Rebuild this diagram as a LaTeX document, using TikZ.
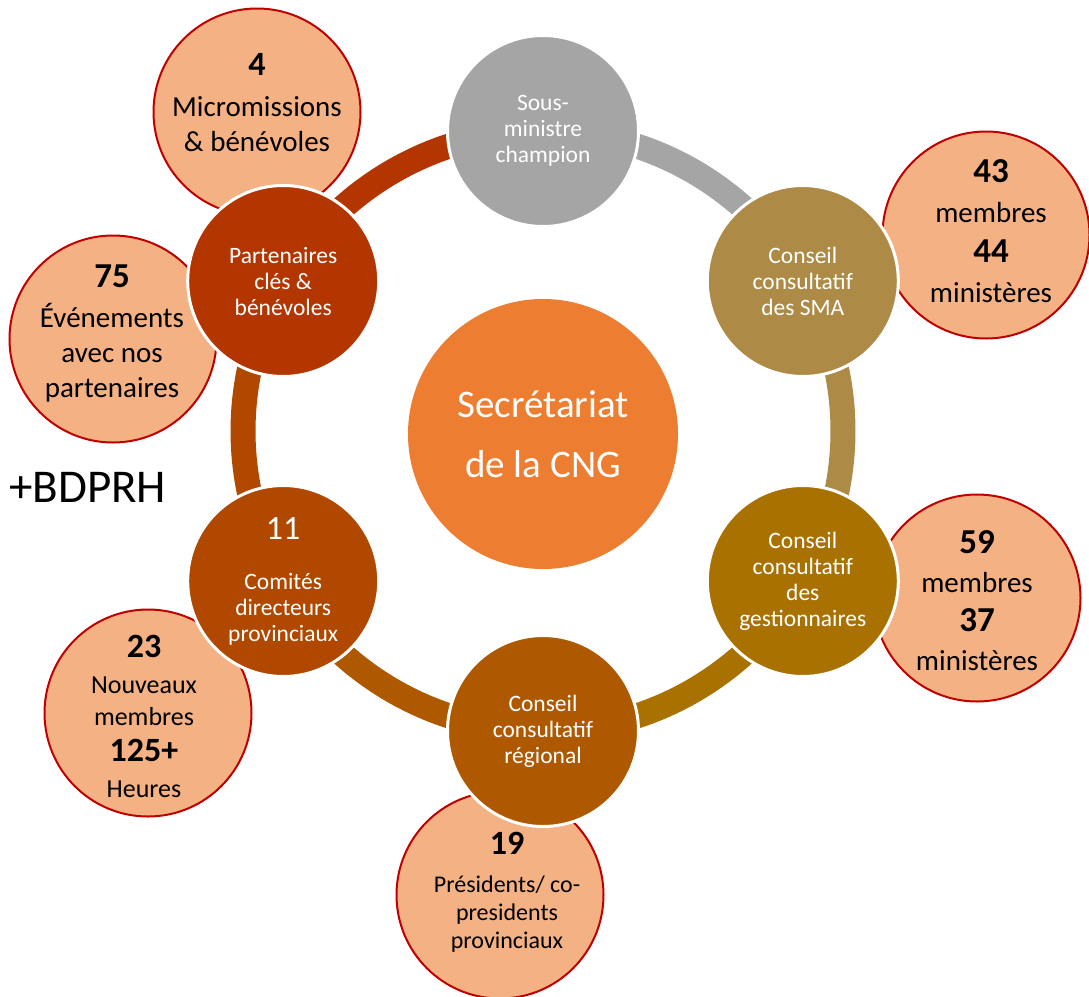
\documentclass[tikz,border=0pt]{standalone}
\usepackage{fontspec}
\setmainfont{Carlito}
\definecolor{cgray}{HTML}{A5A5A5}
\definecolor{csma}{HTML}{AD8B46}
\definecolor{cgest}{HTML}{A97100}
\definecolor{creg}{HTML}{AE5900}
\definecolor{ccom}{HTML}{B04800}
\definecolor{cpart}{HTML}{B33600}
\definecolor{ccenter}{HTML}{ED7D31}
\definecolor{satfill}{HTML}{F4B183}
\definecolor{satred}{HTML}{C00000}
\begin{document}
\begin{tikzpicture}[x=1pt,y=-1pt,
  ringnode/.style={circle, draw=white, line width=3pt, minimum size=191pt, inner sep=0pt,
    text=white, align=center, font=\fontsize{23.5}{26}\selectfont},
  sat/.style={circle, draw=satred, line width=2pt, fill=satfill, minimum size=207pt, inner sep=0pt},
  sattext/.style={align=center, inner sep=0pt, text=black},
  link/.style={line width=25pt}]
\useasboundingbox (0,0) rectangle (1089,996);

% satellites
\node[sat] (s1) at (257,112) {};
\node[sat] (s2) at (113,339) {};
\node[sat] (s3) at (986,235) {};
\node[sat] (s4) at (977,598) {};
\node[sat] (s5) at (148,713) {};
\node[sat] (s6) at (500,895) {};

\node[sattext, font=\fontsize{29}{35}\selectfont] (t1) at (257,103)
  {{\fontsize{34}{35}\selectfont\bfseries 4}\\[6pt]Micromissions\\\& bénévoles};
\node[sattext, font=\fontsize{29}{35}\selectfont] (t2) at (112,333)
  {{\fontsize{35}{35}\selectfont\bfseries 75}\\[5pt]Événements\\avec nos\\partenaires};
\node[sattext, font=\fontsize{29}{40}\selectfont] (t3) at (991,231)
  {{\fontsize{35}{40}\selectfont\bfseries 43}\\membres\\{\fontsize{35}{40}\selectfont\bfseries 44}\\ministères};
\node[sattext, font=\fontsize{29}{39}\selectfont] (t4) at (977,601)
  {{\fontsize{35}{39}\selectfont\bfseries 59}\\membres\\{\fontsize{35}{39}\selectfont\bfseries 37}\\ministères};
\node[sattext, font=\fontsize{26}{36}\selectfont] (t5) at (144,716)
  {{\fontsize{34}{36}\selectfont\bfseries 23}\\Nouveaux\\[-4pt]membres\\{\fontsize{34}{36}\selectfont\bfseries 125+}\\Heures};
\node[sattext, font=\fontsize{24}{28}\selectfont] (t6) at (507,892)
  {{\fontsize{34}{28}\selectfont\bfseries 19}\\[10pt]Présidents/ co-\\presidents\\provinciaux};

% centre
\node[circle, fill=ccenter, minimum size=270pt, inner sep=0pt, text=white, align=center,
  font=\fontsize{39}{60}\selectfont] (c) at (543,434) {Secrétariat\\de la CNG};

% ring node coordinates
\coordinate (p1) at (543,131);
\coordinate (p2) at (802.8,281);
\coordinate (p3) at (802.8,581);
\coordinate (p4) at (543,731);
\coordinate (p5) at (283.2,581);
\coordinate (p6) at (283.2,281);

% arcs
\draw[link, draw=cgray] (p1) arc[start angle=90, end angle=30, radius=300pt];
\draw[link, draw=csma]  (p2) arc[start angle=30, end angle=-30, radius=300pt];
\draw[link, draw=cgest] (p3) arc[start angle=-30, end angle=-90, radius=300pt];
\draw[link, draw=creg]  (p4) arc[start angle=-90, end angle=-150, radius=300pt];
\draw[link, draw=ccom]  (p5) arc[start angle=210, end angle=150, radius=300pt];
\draw[link, draw=cpart] (p6) arc[start angle=150, end angle=90, radius=300pt];

% ring nodes
\node[ringnode, fill=cgray] (n1) at (p1) {Sous-\\ministre\\champion};
\node[ringnode, fill=csma]  (n2) at (p2) {Conseil\\consultatif\\des SMA};
\node[ringnode, fill=cgest] (n3) at (p3) {Conseil\\consultatif\\des\\gestionnaires};
\node[ringnode, fill=creg]  (n4) at (p4) {Conseil\\consultatif\\régional};
\node[ringnode, fill=ccom]  (n5) at (p5) {{\fontsize{34}{26}\selectfont 11}\\[24pt]Comités\\directeurs\\provinciaux};
\node[ringnode, fill=cpart] (n6) at (p6) {Partenaires\\clés \&\\bénévoles};

% +BDPRH
\node[anchor=west, inner sep=0pt, font=\fontsize{47}{50}\selectfont] (bd) at (9,487) {+BDPRH};
\end{tikzpicture}
\end{document}
